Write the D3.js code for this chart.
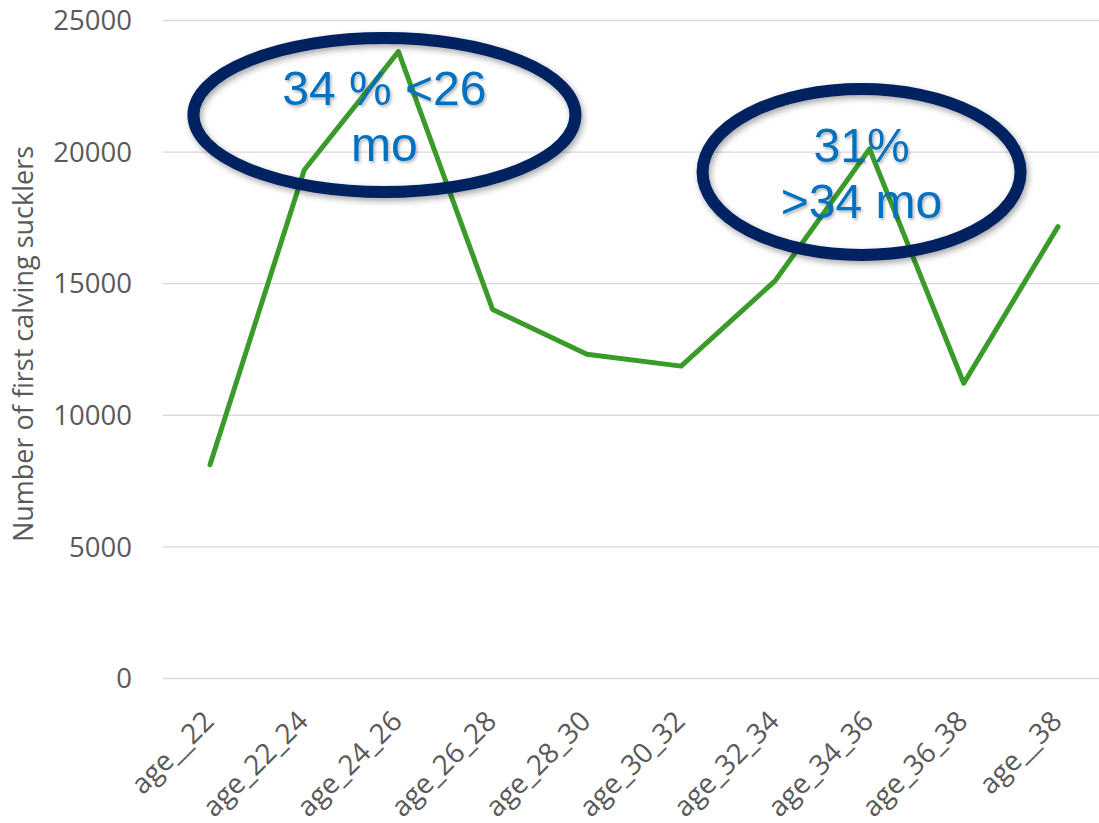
<!DOCTYPE html>
<html>
<head>
<meta charset="utf-8">
<script src="https://cdn.jsdelivr.net/npm/d3@7"></script>
<style>
  html, body { margin: 0; padding: 0; background: #fff; }
  svg { display: block; }
</style>
</head>
<body>
<svg id="chart" width="1099" height="823"></svg>
<script>
// Age group at first calving
const categories = ["age__22", "age_22_24", "age_24_26", "age_26_28", "age_28_30",
                    "age_30_32", "age_32_34", "age_34_36", "age_36_38", "age__38"];
// Number of first calving sucklers per age group
const counts = [8100, 19300, 23800, 14000, 12300, 11850, 15100, 20100, 11200, 17150];
// Y-axis ticks
const yTicks = [0, 5000, 10000, 15000, 20000, 25000];
// Callout annotations: the category they sit over and their text lines
const callouts = [
  { at: "age_24_26", lines: ["34 % <26", "mo"] },
  { at: "age_34_36", lines: ["31%", ">34 mo"] }
];

const svg = d3.select("#chart");
const W = 1099, H = 823;
const font = "'Open Sans', Lato, 'Liberation Sans', sans-serif";

const x = d3.scalePoint().domain(categories).range([210, 1058]);
const y = d3.scaleLinear().domain([0, 25000]).range([678, 20]);
const step = x.step();
const plotLeft = x(categories[0]) - step / 2;

const defs = svg.append("defs");
const sh = defs.append("filter").attr("id", "shadow")
  .attr("x", "-20%").attr("y", "-20%").attr("width", "140%").attr("height", "140%");
sh.append("feDropShadow").attr("dx", 2).attr("dy", 3).attr("stdDeviation", 3)
  .attr("flood-color", "#000").attr("flood-opacity", 0.35);
const tsh = defs.append("filter").attr("id", "tshadow")
  .attr("x", "-20%").attr("y", "-20%").attr("width", "140%").attr("height", "140%");
tsh.append("feDropShadow").attr("dx", 1.5).attr("dy", 2).attr("stdDeviation", 1.5)
  .attr("flood-color", "#000").attr("flood-opacity", 0.3);

// Horizontal gridlines
const yAxis = d3.axisLeft(y).tickValues(yTicks).tickSize(0).tickPadding(0)
  .tickFormat(d3.format("d"));
const gy = svg.append("g").attr("transform", `translate(${plotLeft},0)`).call(yAxis);
gy.select(".domain").remove();
gy.selectAll(".tick line")
  .attr("x2", W - plotLeft + 10)
  .attr("stroke", "#d9d9d9").attr("stroke-width", 1.3);
gy.selectAll(".tick text")
  .attr("x", -31).attr("dy", "0.35em")
  .attr("fill", "#595959").style("font-family", font).style("font-size", "27.5px");

// Category labels, rotated
const xAxis = d3.axisBottom(x).tickSize(0).tickPadding(0);
const gx = svg.append("g").attr("transform", `translate(0,${y(0)})`).call(xAxis);
gx.select(".domain").remove();
gx.selectAll(".tick text")
  .attr("y", 0).attr("dy", 0)
  .attr("text-anchor", "end")
  .attr("transform", "translate(5,45) rotate(-45)")
  .attr("fill", "#595959").style("font-family", font).style("font-size", "28px");

// Y-axis title
svg.append("text")
  .attr("transform", `translate(33,344) rotate(-90)`)
  .attr("text-anchor", "middle")
  .attr("fill", "#595959").style("font-family", font).style("font-size", "27px")
  .text("Number of first calving sucklers");

// Data line
const line = d3.line().x((d, i) => x(categories[i])).y(d => y(d));
svg.append("path").datum(counts)
  .attr("d", line)
  .attr("fill", "none").attr("stroke", "#3a9a2a").attr("stroke-width", 5)
  .attr("stroke-linejoin", "round").attr("stroke-linecap", "round");

// Callout ellipses with their labels
const ellipseGeom = {
  "age_24_26": { dx: -14, cy: 115, rx: 191, ry: 77, textY: 105 },
  "age_34_36": { dx: -8, cy: 172, rx: 159, ry: 83, textY: 162 }
};
callouts.forEach(c => {
  const g = ellipseGeom[c.at];
  const cx = x(c.at) + g.dx;
  svg.append("ellipse")
    .attr("cx", cx).attr("cy", g.cy).attr("rx", g.rx).attr("ry", g.ry)
    .attr("fill", "none").attr("stroke", "#002060").attr("stroke-width", 12)
    .attr("filter", "url(#shadow)");
  const t = svg.append("text")
    .attr("text-anchor", "middle")
    .attr("fill", "#0070c0")
    .style("font-family", "'Liberation Sans', Arial, sans-serif")
    .style("font-size", "48px")
    .attr("filter", "url(#tshadow)");
  c.lines.forEach((ln, i) => {
    t.append("tspan").attr("x", cx).attr("y", g.textY + i * 56).text(ln);
  });
});
</script>
</body>
</html>
